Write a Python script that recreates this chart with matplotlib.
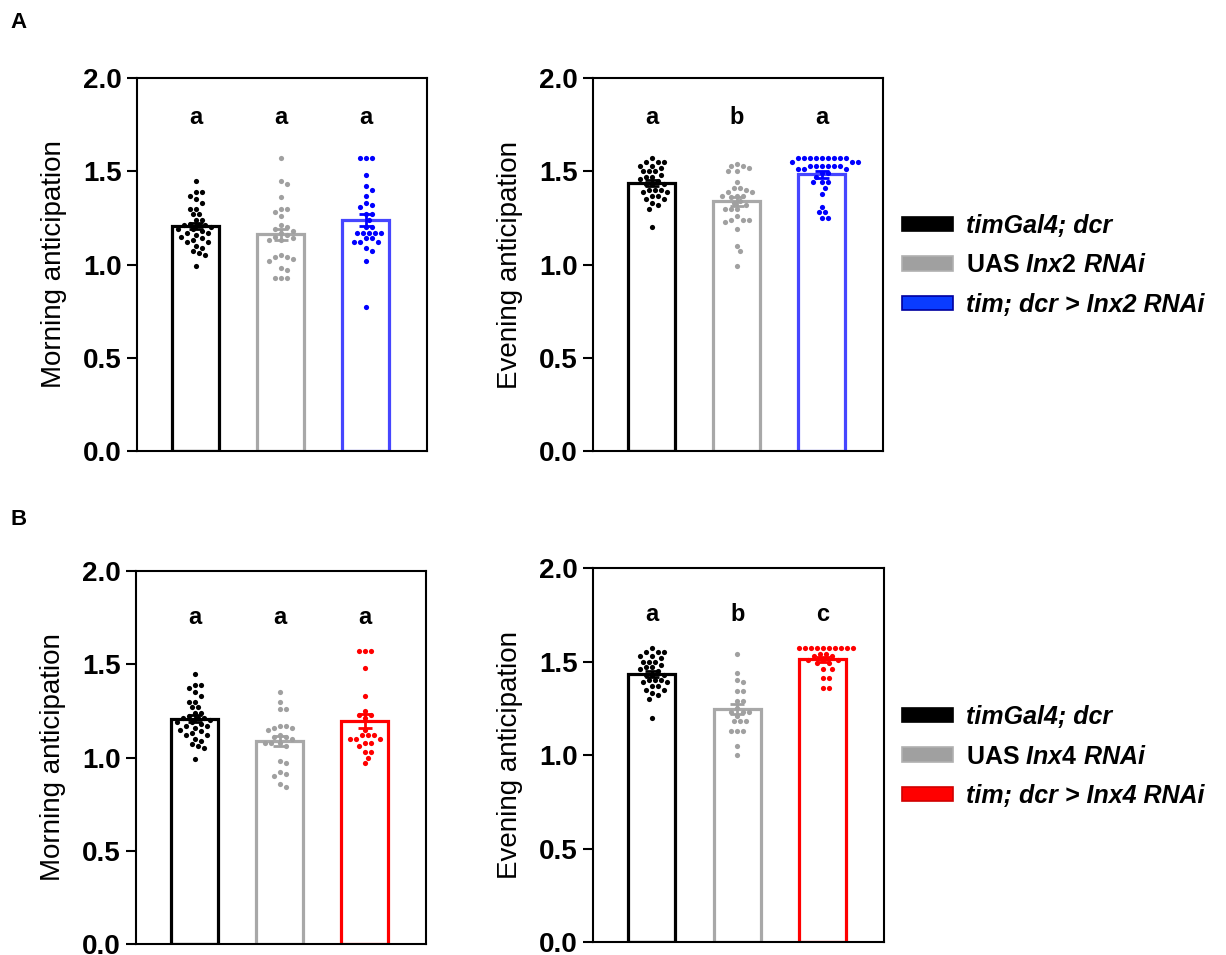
import matplotlib
matplotlib.use("Agg")
import matplotlib.pyplot as plt
import numpy as np
from matplotlib.patches import Patch

plt.rcParams['font.family'] = ['Liberation Sans', 'DejaVu Sans']
plt.rcParams['mathtext.fontset'] = 'custom'
plt.rcParams['mathtext.it'] = 'Liberation Sans:italic:bold'
plt.rcParams['mathtext.rm'] = 'Liberation Sans:bold'

# kontrola timGal4; dcr (ta sama w A i B)
ctrl_morning = [1.45, 1.39, 1.39, 1.37, 1.35, 1.33, 1.30, 1.30, 1.27, 1.27, 1.24, 1.24,
                1.22, 1.21, 1.21, 1.21, 1.20, 1.19, 1.19, 1.18, 1.17, 1.17, 1.16, 1.15,
                1.14, 1.13, 1.12, 1.12, 1.10, 1.09, 1.07, 1.06, 1.05, 0.99]
ctrl_evening = [1.57, 1.55, 1.55, 1.55, 1.53, 1.53, 1.52, 1.50, 1.50, 1.50, 1.48, 1.47,
                1.47, 1.46, 1.45, 1.43, 1.43, 1.43, 1.40, 1.40, 1.40, 1.39, 1.39, 1.37,
                1.37, 1.35, 1.35, 1.33, 1.32, 1.30, 1.20]

# A: Inx2
uas2_morning = [1.57, 1.45, 1.43, 1.36, 1.30, 1.30, 1.28, 1.26, 1.21, 1.20, 1.19, 1.18,
                1.17, 1.16, 1.15, 1.14, 1.13, 1.13, 1.05, 1.04, 1.04, 1.03, 1.02, 0.98,
                0.97, 0.93, 0.93, 0.93]
kd2_morning = [1.57, 1.57, 1.57, 1.48, 1.42, 1.40, 1.37, 1.33, 1.32, 1.31, 1.27, 1.27,
               1.24, 1.20, 1.20, 1.17, 1.17, 1.17, 1.17, 1.17, 1.14, 1.14, 1.12, 1.12,
               1.12, 1.09, 1.07, 1.02, 0.77]
uas2_evening = [1.54, 1.53, 1.53, 1.52, 1.50, 1.50, 1.44, 1.41, 1.41, 1.40, 1.39, 1.39,
                1.37, 1.37, 1.37, 1.36, 1.34, 1.33, 1.32, 1.30, 1.30, 1.30, 1.26, 1.24,
                1.24, 1.24, 1.23, 1.19, 1.10, 1.07, 0.99]
kd2_evening = [1.57] * 9 + [1.55] * 3 + [1.53] * 6 + [1.51] * 3 + [1.49] * 2 + [1.47] + \
              [1.44] * 3 + [1.41, 1.38, 1.31, 1.28, 1.28, 1.25, 1.25]

# B: Inx4
uas4_morning = [1.35, 1.30, 1.26, 1.26, 1.17, 1.17, 1.16, 1.16, 1.15, 1.12, 1.11, 1.11,
                1.10, 1.08, 1.08, 1.08, 1.06, 0.98, 0.97, 0.92, 0.91, 0.90, 0.86, 0.84]
kd4_morning = [1.57, 1.57, 1.57, 1.48, 1.33, 1.25, 1.23, 1.23, 1.21, 1.15, 1.12, 1.12,
               1.12, 1.10, 1.10, 1.10, 1.08, 1.08, 1.06, 1.03, 1.03, 1.00, 0.97]
uas4_evening = [1.54, 1.44, 1.40, 1.39, 1.34, 1.34, 1.29, 1.29, 1.25, 1.23, 1.23, 1.23,
                1.21, 1.18, 1.18, 1.18, 1.13, 1.13, 1.13, 1.05, 1.00]
kd4_evening = [1.57] * 10 + [1.54] * 2 + [1.53] * 2 + [1.51] * 3 + [1.49] * 2 + \
              [1.46] * 2 + [1.41] * 2 + [1.36] * 2

litery_A_m = ["a", "a", "a"]
litery_A_e = ["a", "b", "a"]
litery_B_m = ["a", "a", "a"]
litery_B_e = ["a", "b", "c"]

etykiety_A = ["timGal4; dcr", "UAS $\\mathit{Inx2\\ RNAi}$", "tim; dcr > Inx2 RNAi"]
etykiety_B = ["timGal4; dcr", "UAS $\\mathit{Inx4\\ RNAi}$", "tim; dcr > Inx4 RNAi"]

kol_pkt_A = ["#000000", "#a0a0a0", "#0000ff"]
kol_bar_A = ["#000000", "#a8a8a8", "#4646ff"]
kol_pkt_B = ["#000000", "#a0a0a0", "#ff0000"]
kol_bar_B = ["#000000", "#a8a8a8", "#ff0000"]

PX_X = 85.0    # px na jednostke x
PX_Y = 186.5   # px na jednostke y


def swarm(vals, xc, d=6.0, step=1.5):
    # prosty beeswarm w pikselach
    placed = []
    xs = np.zeros(len(vals))
    order = np.argsort(vals)[::-1]
    for i in order:
        y = vals[i] * PX_Y
        k = 0
        while True:
            off = ((k + 1) // 2) * step * (1 if k % 2 else -1) if k else 0.0
            ok = True
            for (px, py) in placed:
                if (off - px) ** 2 + (y - py) ** 2 < d ** 2:
                    ok = False
                    break
            if ok:
                break
            k += 1
        placed.append((off, y))
        xs[i] = xc + off / PX_X
    return xs


def panel(ax, grupy, kol_pkt, kol_bar, litery, ylab, y_lit):
    for i, g in enumerate(grupy):
        g = np.array(g)
        m = g.mean()
        sem = g.std(ddof=1) / np.sqrt(len(g))
        ax.bar(i, m, width=0.55, facecolor="white", edgecolor=kol_bar[i], linewidth=2.3, zorder=1)
        ax.scatter(swarm(g, i), g, s=14, color=kol_pkt[i], linewidths=0, zorder=3)
        ax.errorbar(i, m, yerr=sem, color=kol_pkt[i], capsize=5, elinewidth=2, capthick=2, zorder=4)
        ax.text(i, y_lit, litery[i], ha="center", va="center", fontsize=17, fontweight="bold")
    ax.set_xlim(-0.69, 2.72)
    ax.set_ylim(0, 2.0)
    ax.set_yticks([0, 0.5, 1.0, 1.5, 2.0])
    ax.set_yticklabels(["0.0", "0.5", "1.0", "1.5", "2.0"], fontweight="bold", fontsize=20)
    ax.set_xticks([])
    ax.tick_params(axis="y", direction="out", length=7, width=1.5, pad=4)
    for s in ax.spines.values():
        s.set_linewidth(1.5)
    ax.set_ylabel(ylab, fontsize=20)
    ax.yaxis.set_label_coords(-0.24, 0.5)


def legenda(fig, etykiety, kolory, krawedzie, y_top):
    uchwyty = [Patch(facecolor=kolory[i], edgecolor=krawedzie[i], linewidth=1.2) for i in range(3)]
    leg = fig.legend(uchwyty, etykiety, loc="upper left", bbox_to_anchor=(902 / 1226, y_top),
                     frameon=False, prop={"weight": "bold", "size": 18}, handlelength=2.04,
                     handleheight=0.52, handletextpad=0.5, labelspacing=0.62,
                     borderpad=0, borderaxespad=0)
    t = leg.get_texts()
    t[0].set_fontstyle("italic")
    t[2].set_fontstyle("italic")
    return leg


fig = plt.figure(figsize=(12.26, 9.55), dpi=100)

ax1 = fig.add_axes([0.1117, 0.5277, 0.2365, 0.3906])
ax2 = fig.add_axes([0.4837, 0.5277, 0.2365, 0.3906])
ax3 = fig.add_axes([0.1109, 0.0115, 0.2365, 0.3906])
ax4 = fig.add_axes([0.4837, 0.0136, 0.2374, 0.3916])

panel(ax1, [ctrl_morning, uas2_morning, kd2_morning], kol_pkt_A, kol_bar_A, litery_A_m, "Morning anticipation", 1.79)
panel(ax2, [ctrl_evening, uas2_evening, kd2_evening], kol_pkt_A, kol_bar_A, litery_A_e, "Evening anticipation", 1.79)
panel(ax3, [ctrl_morning, uas4_morning, kd4_morning], kol_pkt_B, kol_bar_B, litery_B_m, "Morning anticipation", 1.75)
panel(ax4, [ctrl_evening, uas4_evening, kd4_evening], kol_pkt_B, kol_bar_B, litery_B_e, "Evening anticipation", 1.75)

legenda(fig, etykiety_A, ["#000000", "#a0a0a0", "#0a3cff"], ["#000000", "#b0b0b0", "#0000a0"], 1 - 214 / 955)
legenda(fig, etykiety_B, ["#000000", "#a0a0a0", "#ff0000"], ["#000000", "#b0b0b0", "#d00000"], 1 - 705 / 955)

fig.text(10 / 1226, 1 - 22 / 955, "A", fontsize=16, fontweight="bold", va="center")
fig.text(10 / 1226, 1 - 519 / 955, "B", fontsize=16, fontweight="bold", va="center")

plt.savefig("out.png", dpi=100)
